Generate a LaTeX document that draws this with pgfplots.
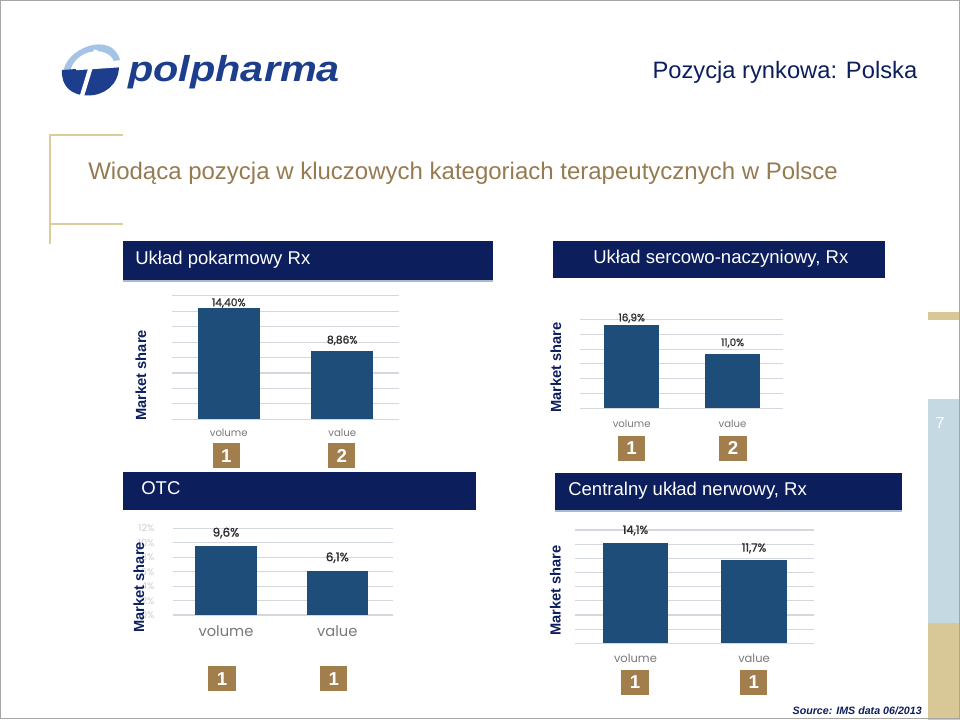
\documentclass[border=0pt]{standalone}
\usepackage{pgfplots}
\pgfplotsset{compat=1.18}
\usepackage{fontspec}
\setmainfont{Liberation Sans}
\newfontfamily\gothic{Poppins}
\newfontfamily\gothicb{Poppins}[FakeBold=1.3]
\definecolor{navy}{RGB}{12,30,92}
\definecolor{barblue}{RGB}{31,77,122}
\definecolor{badgetan}{RGB}{162,126,76}
\definecolor{titletan}{RGB}{150,122,80}
\definecolor{lighttan}{RGB}{220,203,155}
\definecolor{striptan}{RGB}{216,200,152}
\definecolor{lightblue}{RGB}{197,217,226}
\definecolor{logoblue}{RGB}{28,62,140}
\definecolor{logolight}{RGB}{165,195,228}
\definecolor{gridc}{RGB}{212,216,222}
\definecolor{labgray}{RGB}{120,120,120}
\definecolor{shadowc}{RGB}{170,186,206}
\pgfplotsset{
  slidebar/.style={
    ybar, scale only axis, anchor=south west,
    xmin=-0.5, xmax=1.5, ymin=0,
    axis line style={draw=none},
    major tick length=0pt,
    ymajorgrids, grid style={gridc, line width=0.8pt},
    xtick={0,1}, xticklabels={volume,value},
    xticklabel style={text=labgray, inner sep=0pt, anchor=north},
    yticklabels={},
    bar width=0.55,
    nodes near coords,
    point meta=explicit symbolic,
    every node near coord/.append style={text=black!82, inner sep=0pt, anchor=south},
    clip=false,
  },
  onebar/.style={fill=barblue, draw=none, bar shift=0pt},
}
\begin{document}
\begin{tikzpicture}
\useasboundingbox (0,0) rectangle (720pt,-540pt);
\begin{scope}[x=0.75pt, y=-0.75pt]
  % right strip
  \fill[striptan] (927.7,311.7) rectangle (960,320);
  \fill[lightblue] (927.7,399) rectangle (960,623);
  \fill[striptan] (927.7,623) rectangle (960,720);
  \node[text=white, font=\fontsize{12}{14}\selectfont] at (940,423) {7};
  % frame
  \draw[gray!70, line width=0.9pt] (0.6,0.6) rectangle (959.2,718.6);
  % logo
  \fill[logolight] (63,74) .. controls (64,48) and (112,30) .. (120,60) -- (114,61) .. controls (106,44) and (74,50) .. (70,72) -- cycle;
  \fill[logoblue] (62,70) -- (119,66) .. controls (119,85) and (104,95.5) .. (88,95.5) .. controls (71,95.5) and (61,86) .. (62,70) -- cycle;
  \draw[white, line width=3.2pt] (81,99) -- (96,50);
  \draw[white, line width=2.6pt] (76,68.5) -- (121,65.5);
  \node[anchor=base west, inner sep=0pt, text=logoblue, font=\bfseries\itshape\fontsize{27}{30}\selectfont, xscale=1.15] at (128,81.7) {polpharma};
  % top right
  \node[anchor=base east, inner sep=0pt, text=navy, font=\fontsize{17.8}{20}\selectfont] at (917.5,78.3) {Pozycja rynkowa: Polska};
  % bracket
  \draw[lighttan, line width=0.9pt] (122.7,135) -- (50,135) -- (50,244);
  \draw[lighttan, line width=0.9pt] (50,224) -- (122.7,224);
  % title
  \node[anchor=base west, inner sep=0pt, text=titletan, font=\fontsize{18}{21}\selectfont] at (88,180) {Wiodąca pozycja w kluczowych kategoriach terapeutycznych w Polsce};
  % header boxes
  \fill[navy] (123,241) rectangle (493,280);
  \draw[shadowc, line width=0.8pt] (123,281) -- (493,281);
  \node[anchor=mid west, inner sep=0pt, text=white, font=\fontsize{13.9}{16}\selectfont] at (135,260.5) {Układ pokarmowy Rx};
  \fill[navy] (553,241) rectangle (885,278);
  \node[anchor=mid west, inner sep=0pt, text=white, font=\fontsize{13.9}{16}\selectfont] at (593,259.5) {Układ sercowo-naczyniowy, Rx};
  \fill[navy] (123,472) rectangle (476,510);
  \node[anchor=mid west, inner sep=0pt, text=white, font=\fontsize{13.9}{16}\selectfont] at (141,491) {OTC};
  \fill[navy] (555,473) rectangle (902,510);
  \draw[shadowc, line width=0.8pt] (555,511) -- (902,511);
  \node[anchor=mid west, inner sep=0pt, text=white, font=\fontsize{13.9}{16}\selectfont] at (568,491.5) {Centralny układ nerwowy, Rx};
  % badges
  \foreach \bx/\by/\bt in {226.4/455.8/1, 341.8/455.8/2, 631.5/448.2/1, 733/448.2/2, 222/678.8/1, 333.7/678.8/1, 635/682.5/1, 753.7/682.5/1}
    \node[fill=badgetan, minimum width=20.4pt, minimum height=18.8pt, inner sep=0pt, text=white, font=\bfseries\fontsize{14}{16}\selectfont] at (\bx,\by) {\bt};
  % source
  \node[anchor=base east, inner sep=0pt, text=navy, font=\bfseries\itshape\fontsize{8}{9}\selectfont] at (922,714) {Source: IMS data 06/2013};
\end{scope}

% Chart 1: Uklad pokarmowy
\begin{axis}[slidebar, at={(129pt,-314.475pt)}, width=170.25pt, height=92.55pt,
  ymax=16, ytick={0,2,...,16},
  xticklabel style={font=\gothic\fontsize{7.6}{9}\selectfont, yshift=-6.7pt},
  every node near coord/.append style={font=\gothicb\fontsize{8}{9}\selectfont}]
  \addplot[onebar, every node near coord/.append style={yshift=0.2pt}] coordinates {(0,14.40) [14,40\%]};
  \addplot[onebar, every node near coord/.append style={yshift=4.2pt}] coordinates {(1,8.86) [8,86\%]};
\end{axis}

% Chart 2: Uklad sercowo-naczyniowy
\begin{axis}[slidebar, at={(435pt,-306.225pt)}, width=152.475pt, height=66.525pt,
  xmin=-0.513, xmax=1.504,
  ymax=18, ytick={0,3,...,18},
  xticklabel style={font=\gothic\fontsize{7.6}{9}\selectfont, yshift=-8.6pt},
  every node near coord/.append style={font=\gothicb\fontsize{7.8}{9}\selectfont}]
  \addplot[onebar, every node near coord/.append style={yshift=1.5pt}] coordinates {(0,16.9) [16,9\%]};
  \addplot[onebar, every node near coord/.append style={yshift=4.7pt}] coordinates {(1,11.0) [11,0\%]};
\end{axis}

% Chart 3: OTC
\begin{axis}[slidebar, at={(129.975pt,-461.25pt)}, width=164.775pt, height=65.025pt,
  xmin=-0.473, xmax=1.5, bar width=0.553,
  ymax=12, ytick={0,2,...,12},
  yticklabels={0\%,2\%,4\%,6\%,8\%,10\%,12\%},
  yticklabel style={font=\gothic\fontsize{7.2}{8}\selectfont, text=gray!40, inner sep=0pt, anchor=east, xshift=-14pt},
  xticklabel style={font=\gothic\fontsize{11}{13}\selectfont, yshift=-8pt},
  every node near coord/.append style={font=\gothicb\fontsize{9}{10}\selectfont}]
  \addplot[onebar, every node near coord/.append style={yshift=5.3pt}] coordinates {(0,9.6) [9,6\%]};
  \addplot[onebar, every node near coord/.append style={yshift=5.8pt}] coordinates {(1,6.1) [6,1\%]};
\end{axis}

% Chart 4: Centralny uklad nerwowy
\begin{axis}[slidebar, at={(431.25pt,-482.475pt)}, width=179.25pt, height=84.975pt,
  xmin=-0.51, xmax=1.506, bar width=0.555,
  ymax=16, ytick={0,2,...,16},
  xticklabel style={font=\gothic\fontsize{8.6}{10}\selectfont, yshift=-7.5pt},
  every node near coord/.append style={font=\gothicb\fontsize{8.6}{10}\selectfont}]
  \addplot[onebar, every node near coord/.append style={yshift=5.8pt}] coordinates {(0,14.1) [14,1\%]};
  \addplot[onebar, every node near coord/.append style={yshift=5.2pt}] coordinates {(1,11.7) [11,7\%]};
\end{axis}

% Market share labels (drawn last so they sit over tick labels)
\begin{scope}[x=0.75pt, y=-0.75pt]
  \foreach \mx/\my in {141/375.3, 556/367.7, 139/587.3, 555.5/590.5}
    \node[rotate=90, inner sep=0pt, text=navy, font=\bfseries\fontsize{11}{13}\selectfont] at (\mx,\my) {Market share};
\end{scope}
\end{tikzpicture}
\end{document}
